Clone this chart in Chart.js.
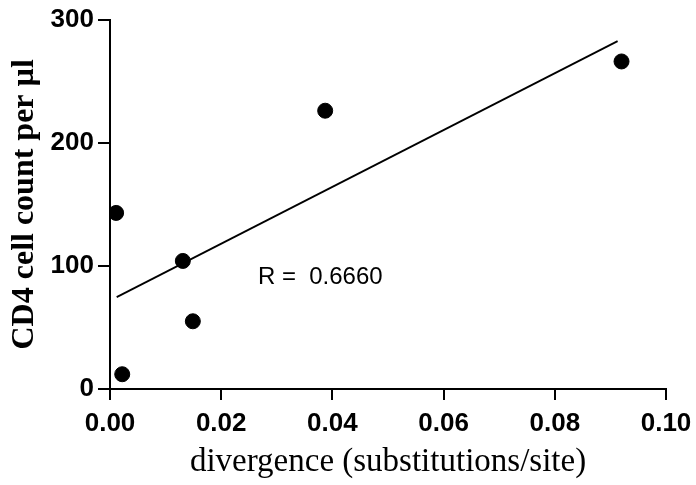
<!DOCTYPE html>
<html>
<head>
<meta charset="utf-8">
<script src="https://cdn.jsdelivr.net/npm/chart.js@4"></script>
<style>
  html, body { margin: 0; padding: 0; background: #fff; }
  #wrap { width: 696px; height: 485px; }
</style>
</head>
<body>
<div id="wrap"><canvas id="divergencePlot"></canvas></div>
<script>
// values
var divergence = [0.0011, 0.0022, 0.0131, 0.0149, 0.0387, 0.0920];
var cd4Count   = [143, 12, 104, 55, 226, 266];

// regression line ends
var fitX = [0.0012, 0.0913];
var fitY = [74.6, 282.5];

var xTickLabels = ["0.00", "0.02", "0.04", "0.06", "0.08", "0.10"];
var yTickLabels = ["0", "100", "200", "300"];

var rText = "R =  0.6660";
var rAt = { x: 0.0266, y: 91 };

var pointsData = divergence.map(function(d, i){ return { x: d, y: cd4Count[i] }; });
var fitData = fitX.map(function(d, i){ return { x: d, y: fitY[i] }; });

var rLabel = {
    id: "rLabel",
    afterDatasetsDraw: function(chart){
        var ctx = chart.ctx;
        var px = chart.scales.x.getPixelForValue(rAt.x);
        var py = chart.scales.y.getPixelForValue(rAt.y);
        ctx.save();
        ctx.font = "24px 'Liberation Sans', Arial, sans-serif";
        ctx.fillStyle = "#000";
        ctx.textAlign = "left";
        ctx.textBaseline = "middle";
        ctx.fillText(rText, px, py);
        ctx.restore();
    }
};

var tickFont = { family: "'Liberation Sans', Arial, sans-serif", size: 26, weight: "bold" };

new Chart(document.getElementById("divergencePlot"), {
    type: "scatter",
    data: {
        datasets: [
            {
                label: "fit",
                data: fitData,
                showLine: true,
                borderColor: "#000",
                borderWidth: 1.8,
                pointRadius: 0,
                fill: false
            },
            {
                label: "CD4",
                data: pointsData,
                backgroundColor: "#000",
                borderColor: "#000",
                pointRadius: 7.5,
                pointHoverRadius: 7.5
            }
        ]
    },
    options: {
        responsive: true,
        maintainAspectRatio: false,
        animation: false,
        layout: { padding: { top: 19, right: 30, bottom: 0, left: 0 } },
        plugins: { legend: { display: false }, tooltip: { enabled: false } },
        scales: {
            x: {
                type: "linear",
                min: 0,
                max: 0.1,
                afterFit: function(axis){
                    axis.height = 96;
                    axis.paddingRight = 0;
                    axis.paddingLeft = 0;
                },
                afterBuildTicks: function(axis){
                    axis.ticks = xTickLabels.map(function(t){ return { value: parseFloat(t) }; });
                },
                border: { display: true, color: "#000", width: 2 },
                grid: { drawOnChartArea: false, drawTicks: true, tickLength: 11, color: "#000", lineWidth: 2 },
                ticks: {
                    color: "#000",
                    font: tickFont,
                    padding: 8,
                    maxRotation: 0,
                    callback: function(v, i){ return xTickLabels[i]; }
                },
                title: {
                    display: true,
                    text: "divergence (substitutions/site)",
                    color: "#000",
                    font: { family: "'Liberation Serif', 'Times New Roman', serif", size: 33 },
                    padding: { top: 0, bottom: 3 }
                }
            },
            y: {
                type: "linear",
                min: 0,
                max: 300,
                afterFit: function(axis){ axis.width = 110; },
                afterBuildTicks: function(axis){
                    axis.ticks = yTickLabels.map(function(t){ return { value: parseFloat(t) }; });
                },
                border: { display: true, color: "#000", width: 2 },
                grid: { drawOnChartArea: false, drawTicks: true, tickLength: 12, color: "#000", lineWidth: 2 },
                ticks: {
                    color: "#000",
                    font: tickFont,
                    padding: 4,
                    callback: function(v, i){ return yTickLabels[i]; }
                },
                title: {
                    display: true,
                    text: "CD4 cell count per µl",
                    color: "#000",
                    font: { family: "'Liberation Serif', 'Times New Roman', serif", size: 32, weight: "bold" },
                    padding: { top: 6, bottom: 0 }
                }
            }
        }
    },
    plugins: [rLabel]
});
</script>
</body>
</html>
